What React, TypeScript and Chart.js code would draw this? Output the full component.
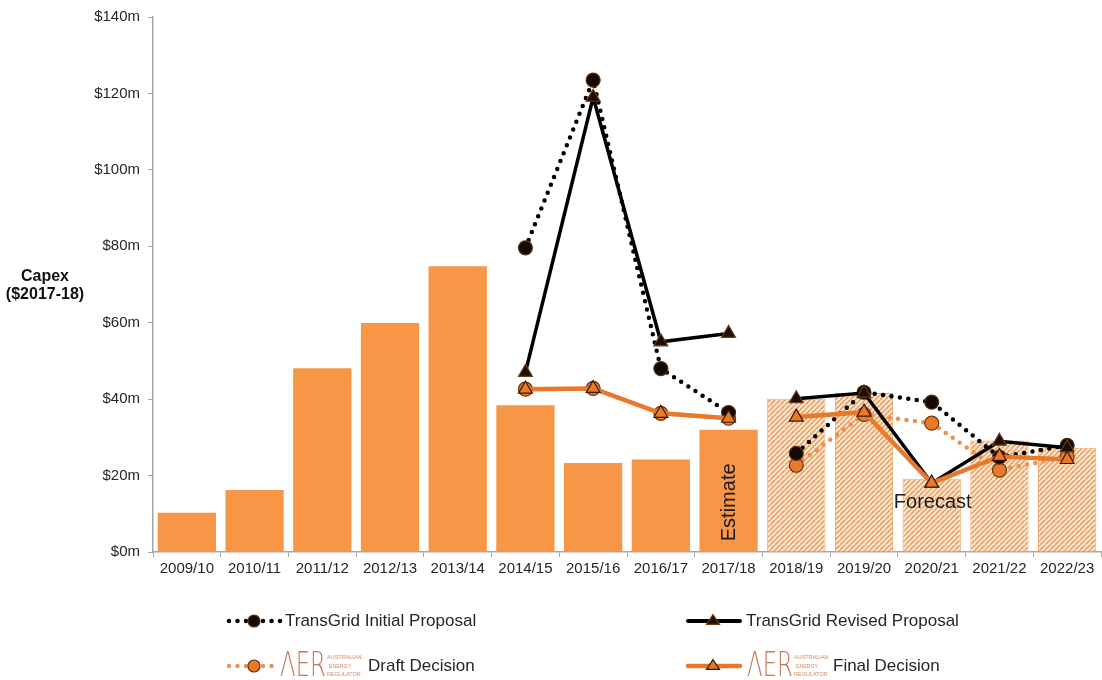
import { useEffect, useRef } from 'react';
import { Chart, registerables } from 'chart.js';

Chart.register(...registerables);

// Financial years on the category axis
const categories = [
  '2009/10', '2010/11', '2011/12', '2012/13', '2013/14', '2014/15', '2015/16',
  '2016/17', '2017/18', '2018/19', '2019/20', '2020/21', '2021/22', '2022/23',
];

// First forecast year (hatched bars, and the break in every line)
const forecastStart = categories.indexOf('2018/19');

// Capex bars, $m (2017-18 dollars)
const capexBars = [10.3, 16.2, 48.1, 59.9, 74.8, 38.4, 23.3, 24.2, 32.0, 40.1, 41.6, 19.2, 29.2, 27.3];

// Comparison series, $m
const initialProposal = [null, null, null, null, null, 79.6, 123.5, 48.0, 36.5, 25.8, 41.8, 39.2, 24.8, 27.9];
const revisedProposal = [null, null, null, null, null, 47.0, 119.0, 55.0, 57.2, 40.1, 41.6, 18.0, 29.0, 27.3];
const draftDecision = [null, null, null, null, null, 42.6, 42.8, 36.3, 35.0, 22.7, 36.0, 33.7, 21.4, 25.0];
const finalDecision = [null, null, null, null, null, 42.6, 42.8, 36.3, 35.0, 35.3, 36.6, 18.0, 25.0, 24.2];

// Y axis ticks
const yTicks = [0, 20, 40, 60, 80, 100, 120, 140];

const FONT = '"Liberation Sans", Arial, sans-serif';
const TEXT = '#262626';
const BAR_ORANGE = '#F79646';
const LINE_ORANGE = '#E8782A';
const DRAFT_ORANGE = '#EC9150';
const AXIS_GREY = '#a6a6a6';

function makeHatch(): CanvasPattern | string {
  const size = 5;
  const c = document.createElement('canvas');
  c.width = size;
  c.height = size;
  const g = c.getContext('2d');
  if (!g) return '#F8D9BC';
  g.fillStyle = '#FBE8D4';
  g.fillRect(0, 0, size, size);
  g.strokeStyle = '#E99A58';
  g.lineWidth = 1.5;
  g.beginPath();
  g.moveTo(-1, size + 1);
  g.lineTo(size + 1, -1);
  g.moveTo(-size - 1, size + 1);
  g.lineTo(1, -1);
  g.moveTo(size - 1, 2 * size + 1);
  g.lineTo(2 * size + 1, size - 1);
  g.stroke();
  return g.createPattern(c, 'repeat') || '#F8D9BC';
}

function drawCircle(ctx: CanvasRenderingContext2D, x: number, y: number, r: number, fill: string, stroke: string) {
  ctx.beginPath();
  ctx.arc(x, y, r, 0, Math.PI * 2);
  ctx.fillStyle = fill;
  ctx.fill();
  ctx.lineWidth = 1.2;
  ctx.strokeStyle = stroke;
  ctx.stroke();
}

function drawTriangle(ctx: CanvasRenderingContext2D, x: number, y: number, r: number, fill: string, stroke: string) {
  const h = r * 1.5;
  ctx.beginPath();
  ctx.moveTo(x, y - h * 0.66);
  ctx.lineTo(x + r, y + h * 0.34);
  ctx.lineTo(x - r, y + h * 0.34);
  ctx.closePath();
  ctx.fillStyle = fill;
  ctx.fill();
  ctx.lineWidth = 1.2;
  ctx.strokeStyle = stroke;
  ctx.stroke();
}

function drawLegendLine(
  ctx: CanvasRenderingContext2D, x0: number, x1: number, y: number,
  color: string, width: number, dotted: boolean,
) {
  ctx.save();
  ctx.beginPath();
  ctx.moveTo(x0, y);
  ctx.lineTo(x1, y);
  ctx.strokeStyle = color;
  ctx.lineWidth = width;
  ctx.lineCap = 'round';
  if (dotted) ctx.setLineDash([0, 8.5]);
  ctx.stroke();
  ctx.restore();
}

function drawAerLogo(ctx: CanvasRenderingContext2D, x: number, y: number) {
  ctx.save();
  ctx.fillStyle = '#C47A5A';
  ctx.textAlign = 'left';
  ctx.textBaseline = 'middle';
  ctx.font = `200 34px "DejaVu Sans", ${FONT}`;
  ctx.fillText('ΛER', x, y + 1, 46);
  ctx.fillStyle = '#C98C70';
  ctx.font = `5.5px ${FONT}`;
  ctx.fillText('AUSTRALIAN', x + 47, y - 9, 35);
  ctx.fillText('ENERGY', x + 49, y, 22);
  ctx.fillText('REGULATOR', x + 47, y + 8, 35);
  ctx.restore();
}

const annotations = {
  id: 'capexAnnotations',
  afterDatasetsDraw(chart: any) {
    const { ctx, scales } = chart;
    const barMeta = chart.getDatasetMeta(0);
    const yMid = scales.y.getPixelForValue(13);

    ctx.save();
    ctx.fillStyle = '#1a1a1a';
    ctx.font = `20px ${FONT}`;
    ctx.textAlign = 'center';
    ctx.textBaseline = 'middle';

    // "Estimate" written up the last actual-year bar
    const est = barMeta.data[forecastStart - 1];
    ctx.save();
    ctx.translate(est.x + 1, yMid);
    ctx.rotate(-Math.PI / 2);
    ctx.fillText('Estimate', 0, 0);
    ctx.restore();

    // "Forecast" across the middle forecast bar
    const mid = barMeta.data[forecastStart + 2];
    ctx.fillText('Forecast', mid.x + 1, yMid);
    ctx.restore();
  },
  afterDraw(chart: any) {
    const { ctx } = chart;
    ctx.save();

    // Y axis title
    ctx.fillStyle = '#111';
    ctx.font = `bold 16px ${FONT}`;
    ctx.textAlign = 'center';
    ctx.textBaseline = 'middle';
    ctx.fillText('Capex', 45, 277);
    ctx.fillText('($2017-18)', 45, 295);

    // Legend
    const row1 = 621;
    const row2 = 666;
    ctx.font = `17px ${FONT}`;
    ctx.fillStyle = TEXT;
    ctx.textAlign = 'left';

    drawLegendLine(ctx, 229, 281, row1, '#000', 4.5, true);
    drawCircle(ctx, 254, row1, 6, '#140a02', '#5a3010');
    ctx.fillStyle = TEXT;
    ctx.fillText('TransGrid Initial Proposal', 285, row1);

    drawLegendLine(ctx, 229, 272, row2, DRAFT_ORANGE, 4.5, true);
    drawCircle(ctx, 254, row2, 6, LINE_ORANGE, '#6a3410');
    drawAerLogo(ctx, 280, row2);
    ctx.fillStyle = TEXT;
    ctx.font = `17px ${FONT}`;
    ctx.fillText('Draft Decision', 368, row2);

    drawLegendLine(ctx, 688, 740, row1, '#000', 4, false);
    drawTriangle(ctx, 713, row1, 6.5, '#1a0e05', '#6b3a12');
    ctx.fillStyle = TEXT;
    ctx.fillText('TransGrid Revised Proposal', 746, row1);

    drawLegendLine(ctx, 688, 740, row2, LINE_ORANGE, 4.5, false);
    drawTriangle(ctx, 713, row2, 6.5, LINE_ORANGE, '#3a1a05');
    drawAerLogo(ctx, 747, row2);
    ctx.fillStyle = TEXT;
    ctx.font = `17px ${FONT}`;
    ctx.fillText('Final Decision', 833, row2);

    ctx.restore();
  },
};

// Hide the segment joining the last actual year to the first forecast year
const gapSegment = {
  borderColor: (ctx: any) => (ctx.p0DataIndex === forecastStart - 1 ? 'rgba(0,0,0,0)' : undefined),
};

export default function App() {
  const canvasRef = useRef<HTMLCanvasElement | null>(null);

  useEffect(() => {
    document.body.style.margin = '0';
    const canvas = canvasRef.current;
    if (!canvas) return;
    const hatch = makeHatch();

    const chart = new Chart(canvas, {
      type: 'bar',
      data: {
        labels: categories,
        datasets: [
          {
            type: 'bar',
            label: 'Capex',
            data: capexBars,
            backgroundColor: capexBars.map((_, i) => (i >= forecastStart ? hatch : BAR_ORANGE)) as any,
            borderColor: capexBars.map((_, i) => (i >= forecastStart ? '#EEA668' : 'rgba(0,0,0,0)')),
            borderWidth: capexBars.map((_, i) => (i >= forecastStart ? 1 : 0)),
            barPercentage: 0.86,
            categoryPercentage: 1,
            order: 10,
          },
          {
            type: 'line',
            label: 'AER Draft Decision',
            data: draftDecision,
            borderColor: DRAFT_ORANGE,
            borderWidth: 4.5,
            borderDash: [0, 8.5],
            borderCapStyle: 'round',
            pointStyle: 'circle',
            pointRadius: 7,
            pointHoverRadius: 7,
            pointBackgroundColor: LINE_ORANGE,
            pointBorderColor: '#6a3410',
            pointBorderWidth: 1.2,
            segment: gapSegment,
            spanGaps: false,
            order: 4,
          },
          {
            type: 'line',
            label: 'TransGrid Initial Proposal',
            data: initialProposal,
            borderColor: '#000',
            borderWidth: 4.5,
            borderDash: [0, 8.5],
            borderCapStyle: 'round',
            pointStyle: 'circle',
            pointRadius: 7,
            pointHoverRadius: 7,
            pointBackgroundColor: '#140a02',
            pointBorderColor: '#5a3010',
            pointBorderWidth: 1.2,
            segment: gapSegment,
            order: 3,
          },
          {
            type: 'line',
            label: 'TransGrid Revised Proposal',
            data: revisedProposal,
            borderColor: '#000',
            borderWidth: 3.5,
            pointStyle: 'triangle',
            pointRadius: 8,
            pointHoverRadius: 8,
            pointBackgroundColor: '#1a0e05',
            pointBorderColor: '#6b3a12',
            pointBorderWidth: 1.2,
            segment: gapSegment,
            order: 2,
          },
          {
            type: 'line',
            label: 'AER Final Decision',
            data: finalDecision,
            borderColor: LINE_ORANGE,
            borderWidth: 4.5,
            pointStyle: 'triangle',
            pointRadius: 8,
            pointHoverRadius: 8,
            pointBackgroundColor: LINE_ORANGE,
            pointBorderColor: '#3a1a05',
            pointBorderWidth: 1.2,
            segment: gapSegment,
            order: 1,
          },
        ],
      },
      options: {
        responsive: false,
        animation: false,
        layout: { autoPadding: false, padding: { top: 16, right: 1, left: 0, bottom: 0 } },
        plugins: {
          legend: { display: false },
          tooltip: { enabled: false },
        },
        scales: {
          x: {
            grid: {
              display: true,
              drawOnChartArea: false,
              drawTicks: true,
              tickLength: 5,
              color: AXIS_GREY,
              offset: true,
            },
            border: { color: AXIS_GREY, width: 1.5 },
            ticks: {
              font: { family: FONT, size: 15 },
              color: TEXT,
              padding: 3,
              maxRotation: 0,
              autoSkip: false,
            },
            afterFit: (s: any) => {
              s.height = 128;
              s.paddingLeft = 0;
              s.paddingRight = 0;
            },
          },
          y: {
            min: yTicks[0],
            max: yTicks[yTicks.length - 1],
            afterBuildTicks: (s: any) => {
              s.ticks = yTicks.map((v) => ({ value: v }));
            },
            ticks: {
              font: { family: FONT, size: 15 },
              color: TEXT,
              padding: 8,
              callback: (v: any) => `$${v}m`,
            },
            grid: {
              display: true,
              drawOnChartArea: false,
              drawTicks: true,
              tickLength: 5,
              color: AXIS_GREY,
            },
            border: { color: AXIS_GREY, width: 1.5 },
            afterFit: (s: any) => {
              s.width = 153;
            },
          },
        },
      },
      plugins: [annotations],
    });

    return () => chart.destroy();
  }, []);

  return (
    <div style={{ width: 1102, height: 680, background: '#fff' }}>
      <canvas ref={canvasRef} width={1102} height={680} style={{ display: 'block' }} />
    </div>
  );
}
